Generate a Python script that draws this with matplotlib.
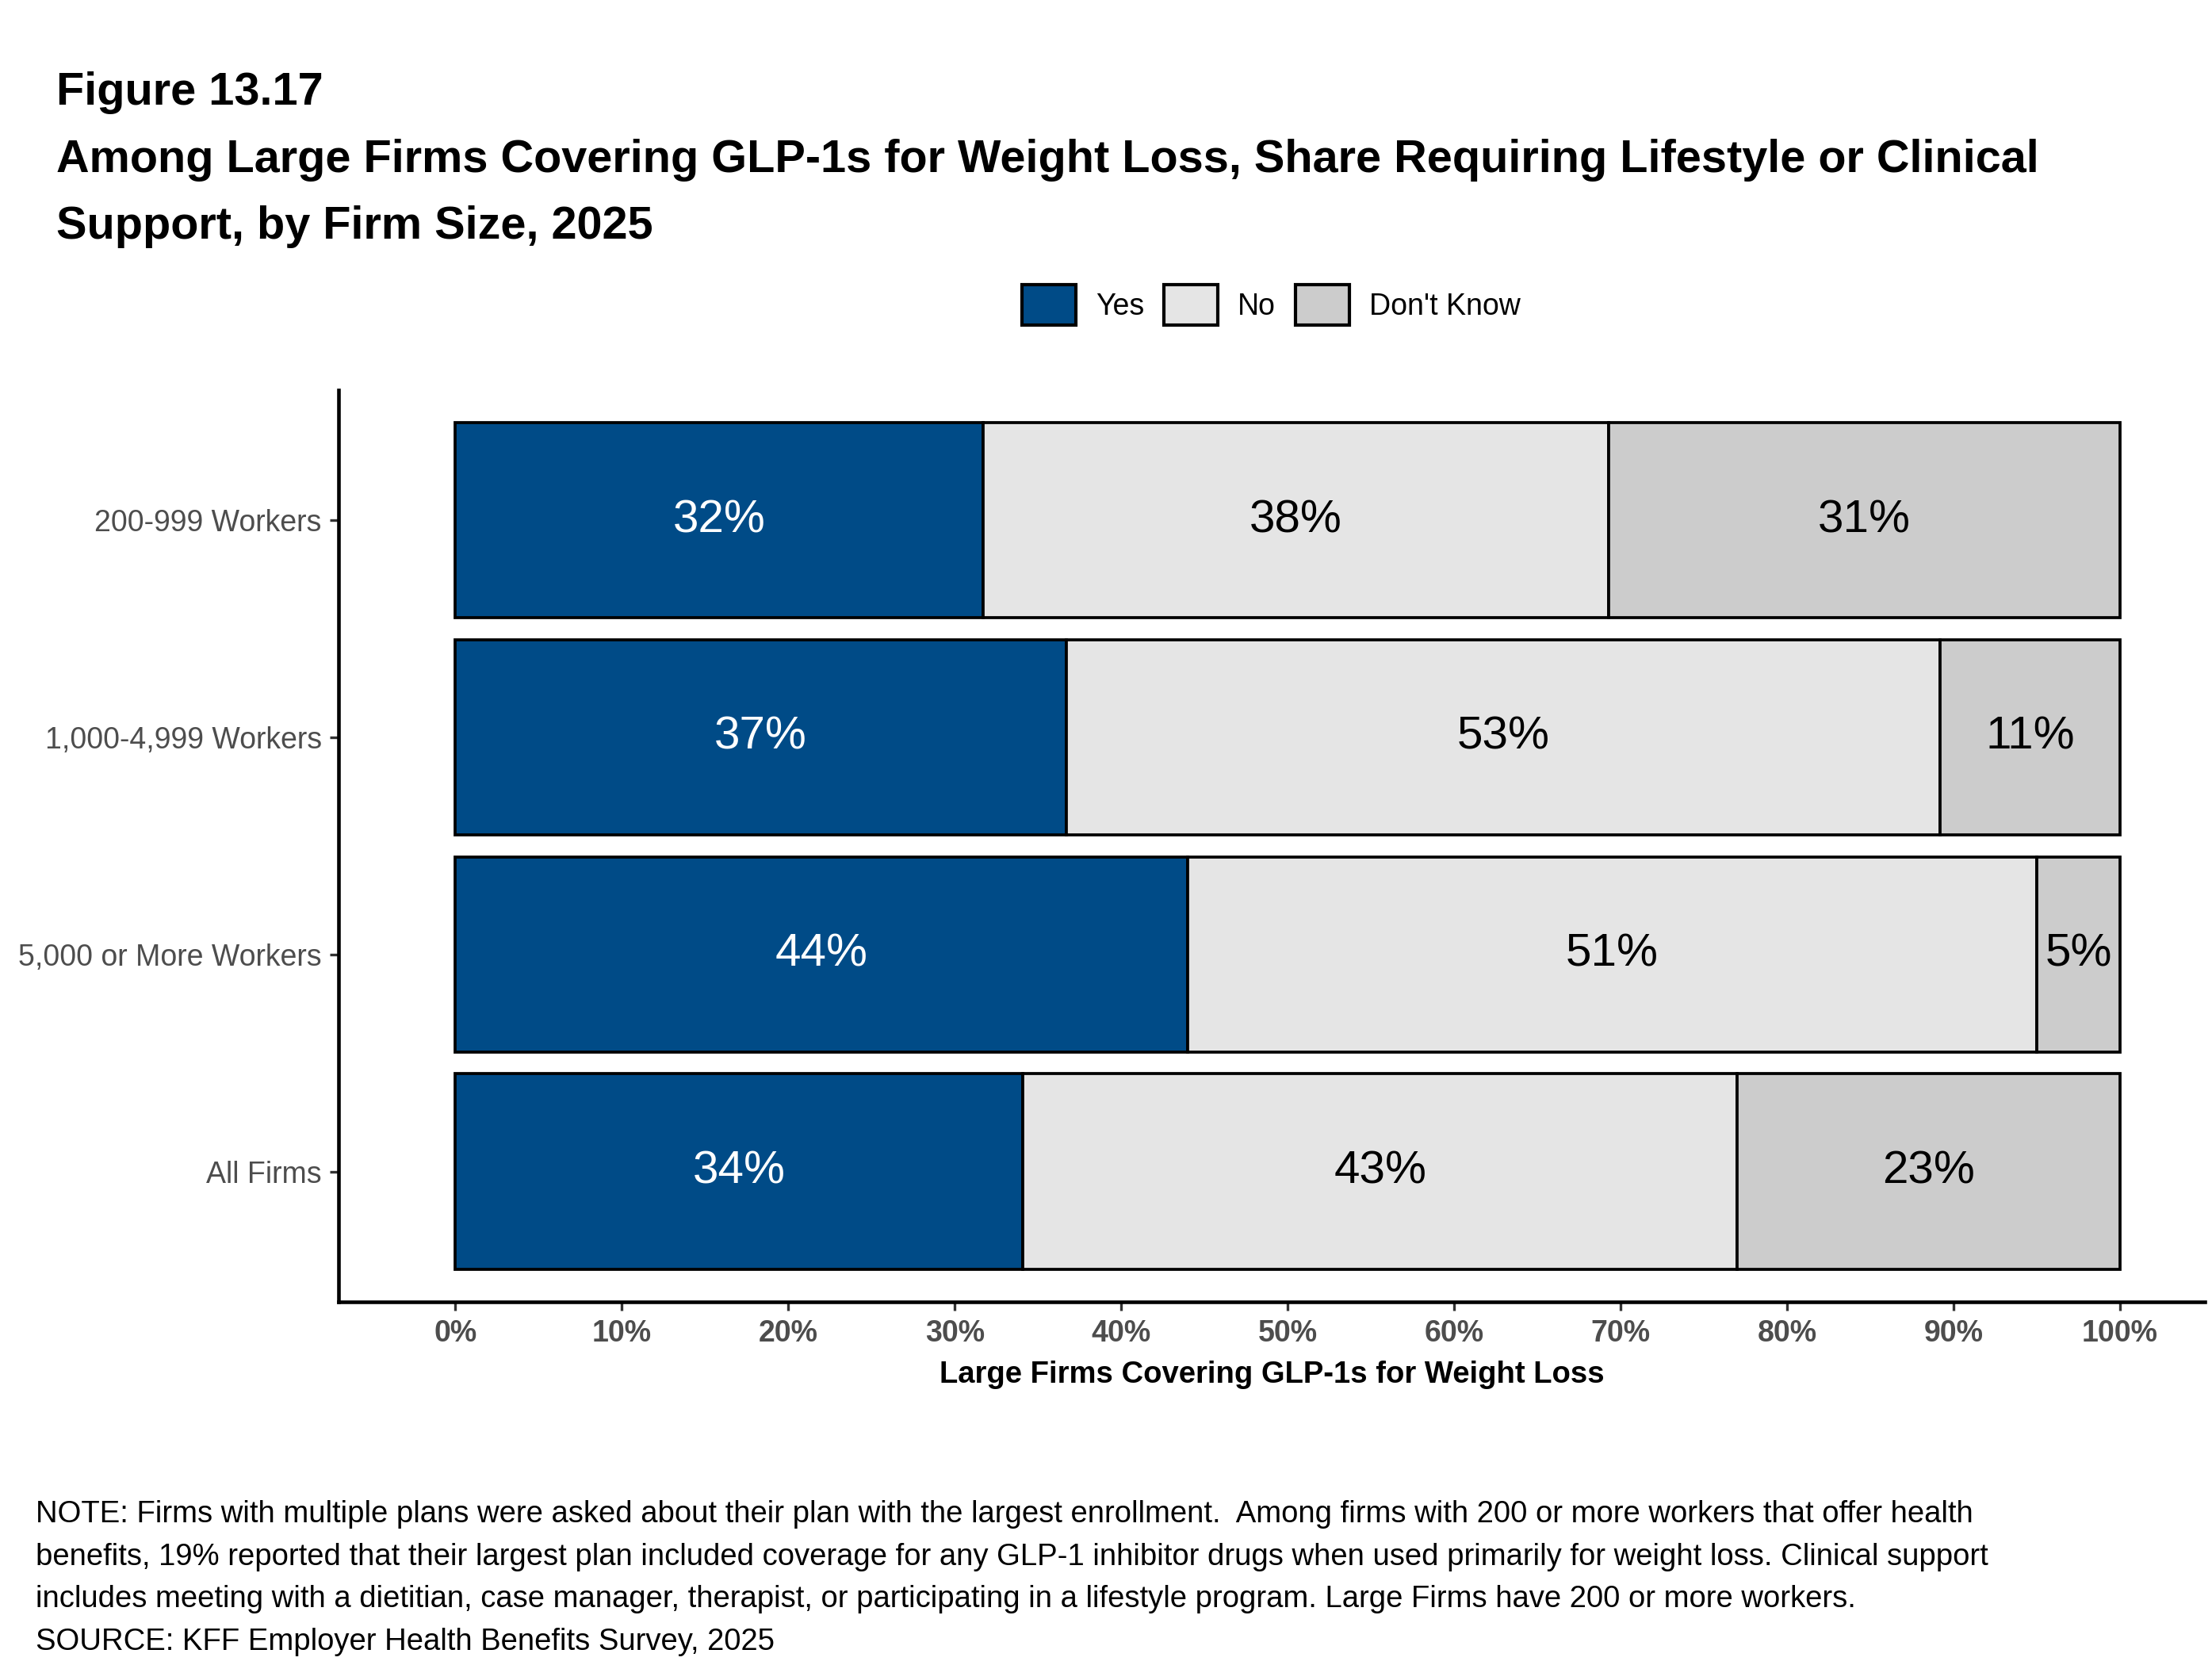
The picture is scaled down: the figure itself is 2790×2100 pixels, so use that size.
import matplotlib
matplotlib.use('Agg')
from matplotlib import pyplot as plt
from matplotlib.patches import Patch
import numpy as np

plt.rcParams['font.family'] = ['Liberation Sans', 'DejaVu Sans']

# data, top to bottom as drawn
groups = ['200-999 Workers', '1,000-4,999 Workers', '5,000 or More Workers', 'All Firms']
yes = [31.7, 36.7, 44.0, 34.1]
no = [37.6, 52.5, 51.0, 42.9]
dont_know = [30.7, 10.8, 5.0, 23.0]
yes_labels = ['32%', '37%', '44%', '34%']
no_labels = ['38%', '53%', '51%', '43%']
dk_labels = ['31%', '11%', '5%', '23%']
series_names = ['Yes', 'No', "Don't Know"]
colors = ['#004b87', '#e5e5e5', '#cccccc']
text_colors = ['white', 'black', 'black']
xticks = [0, 10, 20, 30, 40, 50, 60, 70, 80, 90, 100]

fig = plt.figure(figsize=(9.3, 7), dpi=300)
ax = fig.add_axes([0.1532, 0.2181, 0.9968 - 0.1532, 0.7658 - 0.2181])

ypos = np.arange(len(groups))[::-1]
left = np.zeros(len(groups))
for vals, labs, c, tc in zip([yes, no, dont_know], [yes_labels, no_labels, dk_labels], colors, text_colors):
    vals = np.array(vals)
    ax.barh(ypos, vals, left=left, height=0.9, color=c, edgecolor='black', linewidth=0.9)
    for y, l, v, lab in zip(ypos, left, vals, labs):
        ax.text(l + v / 2, y, lab, ha='center', va='center', fontsize=14, color=tc)
    left = left + vals

ax.set_xlim(-7, 105.1)
ax.set_ylim(-0.6, 3.6)
ax.set_yticks(ypos)
ax.set_yticklabels(groups, fontsize=9, color='#4d4d4d')
ax.set_xticks(xticks)
ax.set_xticklabels([str(t) + '%' for t in xticks], fontsize=9, color='#4d4d4d', fontweight='bold')
ax.tick_params(axis='both', length=2.6, width=0.8, color='#333333')
ax.tick_params(axis='y', pad=2.6)
ax.tick_params(axis='x', pad=2.8)
for s in ['top', 'right']:
    ax.spines[s].set_visible(False)
for s in ['left', 'bottom']:
    ax.spines[s].set_linewidth(1.1)

fig.text(0.575, 0.1695, 'Large Firms Covering GLP-1s for Weight Loss', ha='center', va='baseline',
         fontsize=9.2, fontweight='bold')

# titles
fig.text(0.0256, 0.937, 'Figure 13.17', fontsize=13.85, fontweight='bold', va='baseline')
fig.text(0.0256, 0.8969, 'Among Large Firms Covering GLP-1s for Weight Loss, Share Requiring Lifestyle or Clinical',
         fontsize=13.85, fontweight='bold', va='baseline')
fig.text(0.0256, 0.8569, 'Support, by Firm Size, 2025', fontsize=13.85, fontweight='bold', va='baseline')

handles = [Patch(facecolor=c, edgecolor='black', linewidth=1.0) for c in colors]
fig.legend(handles, series_names, loc='center', bbox_to_anchor=(0.5747, 0.8169), ncol=3, frameon=False,
           fontsize=9, handlelength=1.81, handleheight=1.7, handletextpad=0.67, columnspacing=0.67)

notes = [
    'NOTE: Firms with multiple plans were asked about their plan with the largest enrollment.  Among firms with 200 or more workers that offer health',
    'benefits, 19% reported that their largest plan included coverage for any GLP-1 inhibitor drugs when used primarily for weight loss. Clinical support',
    'includes meeting with a dietitian, case manager, therapist, or participating in a lifestyle program. Large Firms have 200 or more workers.',
    'SOURCE: KFF Employer Health Benefits Survey, 2025',
]
for i, line in enumerate(notes):
    fig.text(0.016, 0.0857 - i * 0.0255, line, fontsize=9.2, va='baseline')

fig.savefig('out.png', dpi=300, facecolor='white')
